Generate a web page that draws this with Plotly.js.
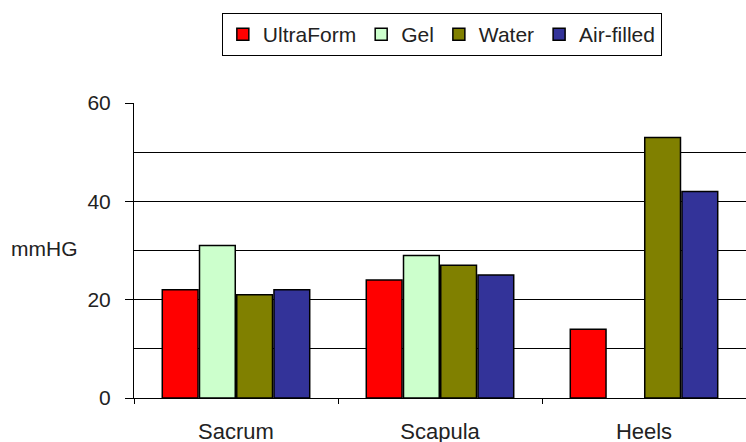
<!DOCTYPE html>
<html><head><meta charset="utf-8">
<script src="https://cdn.plot.ly/plotly-3.0.1.min.js"></script>
<style>html,body{margin:0;padding:0;background:#fff;}#chart{width:746px;height:442px;}</style>
</head><body><div id="chart"></div>
<script>
const categories = ["Sacrum", "Scapula", "Heels"];
const seriesNames = ["UltraForm", "Gel", "Water", "Air-filled"];
const ultraForm = [22, 24, 14];
const gel = [31, 29, null];
const water = [21, 27, 53];
const airFilled = [22, 25, 42];
const colors = ["#ff0000", "#ccffcc", "#808000", "#333399"];
const values = [ultraForm, gel, water, airFilled];

const traces = values.map((v, i) => ({
  type: "bar", name: seriesNames[i], x: categories, y: v,
  marker: {color: colors[i], line: {color: "#000", width: 1.5}}
}));

const layout = {
  width: 746, height: 442,
  margin: {l: 134, r: 0, t: 103, b: 44},
  paper_bgcolor: "#fff", plot_bgcolor: "#fff",
  font: {family: "Liberation Sans, Arial, sans-serif", size: 21, color: "#222"},
  barmode: "group", bargap: 0.27, bargroupgap: 0.04,
  showlegend: true,
  legend: {orientation: "h", x: 0.503, xanchor: "center", y: 1.305, yanchor: "top",
    bordercolor: "#000", borderwidth: 1, font: {size: 21, color: "#222"},
    traceorder: "normal", itemwidth: 30, bgcolor: "#fff"},
  xaxis: {type: "category", showline: true, linecolor: "#000", linewidth: 1,
    ticks: "outside", ticklen: 5, tickcolor: "#000", tickson: "boundaries",
    showgrid: false, zeroline: false, tickfont: {size: 22, color: "#222"}, ticklabelstandoff: 14},
  yaxis: {range: [0, 60], dtick: 20, tick0: 0, showline: true, linecolor: "#000", linewidth: 1,
    ticks: "outside", ticklen: 8, tickcolor: "#000", showgrid: true, gridcolor: "#000", gridwidth: 1,
    zeroline: false, tickfont: {size: 21, color: "#222"}, ticklabelstandoff: 10,
    minor: {dtick: 10, showgrid: true, gridcolor: "#000", gridwidth: 1, ticks: ""}},
  annotations: [{text: "mmHG", xref: "paper", yref: "paper", x: -0.204, y: 0.508,
    xanchor: "left", yanchor: "middle", showarrow: false, font: {size: 21, color: "#222"}}]
};
Plotly.newPlot("chart", traces, layout, {staticPlot: true});
</script></body></html>
